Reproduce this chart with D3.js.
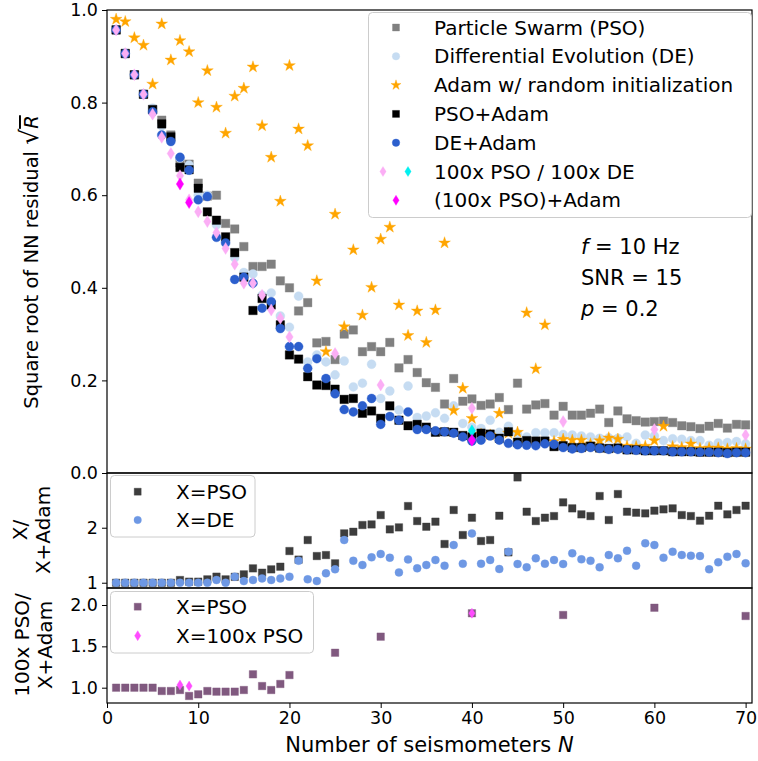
<!DOCTYPE html>
<html><head><meta charset="utf-8">
<script src="https://cdn.jsdelivr.net/npm/d3@7"></script>
<style>body{margin:0;background:#fff}text{font-family:"DejaVu Sans",sans-serif;fill:#000}</style>
</head><body><svg id="c" width="758" height="761"></svg>
<script>
const N = d3.range(1, 71);
const psoVals = [0.957,0.906,0.86,0.818,0.785,0.762,0.73,0.67,0.667,0.626,0.598,0.60,0.539,0.527,0.489,0.446,0.446,0.451,0.415,0.40,0.35,0.368,0.281,0.284,0.245,0.30,0.309,0.262,0.273,0.262,0.282,0.227,0.245,0.217,0.195,0.185,0.149,0.204,0.155,0.16,0.146,0.149,0.163,0.137,0.194,0.138,0.147,0.15,0.125,0.144,0.125,0.125,0.129,0.138,0.109,0.134,0.117,0.113,0.11,0.111,0.112,0.109,0.102,0.1,0.096,0.101,0.107,0.097,0.105,0.104];
const deVals = [0.957,0.906,0.86,0.818,0.788,0.75,0.72,0.68,0.665,0.60,0.60,0.536,0.50,0.465,0.433,0.43,0.384,0.389,0.339,0.315,0.382,0.24,0.255,0.24,0.212,0.242,0.186,0.194,0.235,0.161,0.177,0.136,0.188,0.12,0.123,0.13,0.118,0.145,0.107,0.099,0.096,0.114,0.088,0.101,0.085,0.078,0.087,0.087,0.087,0.083,0.082,0.08,0.078,0.075,0.076,0.075,0.078,0.064,0.082,0.08,0.07,0.074,0.073,0.07,0.07,0.06,0.065,0.066,0.068,0.063];
const adamVals = [0.98,0.975,0.94,0.924,0.84,0.97,0.892,0.934,0.91,0.80,0.869,0.79,0.734,0.814,0.831,0.877,0.75,0.682,0.587,0.88,0.743,0.707,0.415,0.262,0.559,0.316,0.482,0.341,0.401,0.505,0.531,0.363,0.297,0.35,0.282,0.352,0.497,0.135,0.183,0.118,0.084,0.082,0.129,0.086,0.088,0.346,0.225,0.32,0.068,0.073,0.071,0.071,0.063,0.07,0.076,0.073,0.058,0.057,0.058,0.07,0.101,0.057,0.055,0.063,0.053,0.054,0.054,0.052,0.053,0.052];
const psoAdamVals = [0.957,0.906,0.86,0.818,0.785,0.754,0.726,0.66,0.655,0.615,0.564,0.546,0.51,0.476,0.423,0.351,0.377,0.363,0.32,0.255,0.246,0.208,0.19,0.189,0.181,0.159,0.161,0.129,0.134,0.118,0.145,0.114,0.102,0.105,0.099,0.088,0.089,0.088,0.081,0.078,0.086,0.084,0.075,0.089,0.0665,0.07,0.069,0.069,0.057,0.059,0.055,0.055,0.058,0.054,0.053,0.054,0.05,0.05,0.048,0.048,0.048,0.046,0.046,0.046,0.045,0.045,0.045,0.044,0.045,0.045];
const deAdamVals = [0.957,0.906,0.86,0.818,0.78,0.73,0.716,0.682,0.654,0.59,0.597,0.509,0.497,0.418,0.423,0.41,0.356,0.37,0.312,0.273,0.273,0.226,0.247,0.204,0.171,0.137,0.132,0.145,0.161,0.105,0.122,0.114,0.132,0.094,0.094,0.091,0.089,0.086,0.078,0.069,0.071,0.08,0.071,0.064,0.061,0.06,0.059,0.063,0.062,0.055,0.052,0.053,0.055,0.053,0.051,0.051,0.05,0.049,0.048,0.048,0.048,0.046,0.046,0.046,0.045,0.045,0.044,0.042,0.044,0.044];
const pso100N = [1,2,3,4,5,6,7,8,9,10,11,12,13,14,15,16,17,18,19,20,25,30,40,50,60,70];
const pso100Vals = [0.957,0.906,0.86,0.818,0.775,0.725,0.69,0.642,0.59,0.564,0.543,0.519,0.485,0.451,0.41,0.41,0.384,0.352,0.334,0.294,0.258,0.19,0.14,0.111,0.094,0.082];
const de100N = [40];
const de100Vals = [0.091];
const pso100AdamN = [8,9,40];
const pso100AdamVals = [0.624,0.584,0.071];
const ratioPSO = [1,1,1,1,1,1,1,1.049,1.019,1.019,1.061,1.11,1.061,1.107,1.152,1.261,1.182,1.243,1.291,1.576,1.42,1.776,1.485,1.503,1.352,1.897,1.927,2.049,2.06,2.23,1.97,2.006,2.394,2.121,2.018,2.11,1.704,2.322,1.867,2.182,1.758,1.776,2.218,1.552,2.915,2.291,2.121,2.182,2.212,2.461,2.352,2.243,2.212,2.576,2.14,2.612,2.291,2.273,2.261,2.31,2.334,2.352,2.23,2.212,2.128,2.218,2.40,2.243,2.322,2.40];
const ratioDE = [1,1,1,1,1,1,1,1,1,1,1,1.049,1,1.11,1.03,1.049,1.079,1.049,1.079,1.11,1.40,1.061,1.03,1.17,1.243,1.776,1.40,1.322,1.461,1.522,1.455,1.188,1.424,1.261,1.322,1.413,1.309,1.685,1.346,1.897,1.346,1.413,1.249,1.564,1.34,1.28,1.443,1.346,1.413,1.34,1.534,1.425,1.40,1.28,1.503,1.443,1.582,1.309,1.716,1.685,1.455,1.564,1.503,1.491,1.485,1.243,1.37,1.473,1.522,1.352];
const ratio100N = pso100N;
const ratio100Vals = [1,1,1,1,1,0.96,0.96,0.972,0.90,0.92,0.96,0.952,0.952,0.952,0.972,1.162,1.02,0.972,1.045,1.153,1.423,1.617,1.90,1.879,1.967,1.867];
const ratio100AdamN = [8,9,40];
const ratio100AdamVals = [1.033,1.02,1.90];
const xTicks = [0,10,20,30,40,50,60,70];
const mainTicks = [0,0.2,0.4,0.6,0.8,1.0];
const midTicks = [1,2];
const botTicks = [1.0,1.5,2.0];

const svg = d3.select("#c");
const L=107, R=752;
const x = d3.scaleLinear().domain([0,70.7]).range([L,R]);
const yMain = d3.scaleLinear().domain([0,1]).range([473,10]);
const yMid = d3.scaleLinear().domain([0.904,2.995]).range([588,473]);
const yBot = d3.scaleLinear().domain([0.815,2.2056]).range([703,588]);

const sq = s => {const h=s/2;return `M${-h},${-h}h${s}v${s}h${-s}Z`;};
const circ = d => {const r=d/2;return `M${r},0A${r},${r} 0 1,1 ${-r},0A${r},${r} 0 1,1 ${r},0Z`;};
const star = Rr => {const p=[];for(let i=0;i<10;i++){const r=i%2?Rr*0.382:Rr;const a=-Math.PI/2+i*Math.PI/5;p.push([(r*Math.cos(a)).toFixed(2),(r*Math.sin(a)).toFixed(2)]);}return "M"+p.join("L")+"Z";};
const diam = h => {const w=h*0.62;return `M0,${-h/2}L${w/2},0L0,${h/2}L${-w/2},0Z`;};

const defs = svg.append("defs");
function clip(id,y0,y1){defs.append("clipPath").attr("id",id).append("rect").attr("x",L).attr("y",y0).attr("width",R-L).attr("height",y1-y0);}
clip("cm",10,473);clip("cd",473,588);clip("cb",588,703);

function scatter(g, xs, ys, ys2, path, fill, op){
  g.append("g").selectAll("path").data(xs.map((v,i)=>[v,ys[i]])).join("path")
   .attr("d",path).attr("transform",d=>`translate(${x(d[0])},${ys2(d[1])})`)
   .attr("fill",fill).attr("stroke",fill).attr("stroke-opacity",op===undefined?0.35:op).attr("stroke-width",1);
}

const gm = svg.append("g").attr("clip-path","url(#cm)");
scatter(gm,N,psoVals,yMain,sq(8.5),"#808080");
scatter(gm,N,deVals,yMain,circ(9),"#c6dcf2");
scatter(gm,N,adamVals,yMain,star(6.2),"#ffa500");
scatter(gm,N,psoAdamVals,yMain,sq(8.5),"#000000");
scatter(gm,N,deAdamVals,yMain,circ(9),"#2c5fcd");
scatter(gm,pso100N,pso100Vals,yMain,diam(12),"#fbaef5");
scatter(gm,de100N,de100Vals,yMain,diam(12),"#00f0f0");
scatter(gm,pso100AdamN,pso100AdamVals,yMain,diam(12),"#ff00ff");

const gd = svg.append("g").attr("clip-path","url(#cd)");
scatter(gd,N,ratioPSO,yMid,sq(7.5),"#3d3d3d");
scatter(gd,N,ratioDE,yMid,circ(8),"#6e98e4");

const gb = svg.append("g").attr("clip-path","url(#cb)");
scatter(gb,ratio100N,ratio100Vals,yBot,sq(7.5),"#80597f");
scatter(gb,ratio100AdamN,ratio100AdamVals,yBot,diam(10),"#ff4cff");

[[10,473],[473,588],[588,703]].forEach(([a,b])=>{
  svg.append("rect").attr("x",L).attr("y",a).attr("width",R-L).attr("height",b-a).attr("fill","none").attr("stroke","#000").attr("stroke-width",1.2);
});

function yax(sc, ticks, fmt){
  const g = svg.append("g").attr("transform",`translate(${L},0)`)
   .call(d3.axisLeft(sc).tickValues(ticks).tickFormat(fmt).tickSize(5).tickPadding(4));
  g.select(".domain").remove();
  g.selectAll("line").attr("stroke","#000").attr("stroke-width",1);
  g.selectAll("text").style("font-size","17.5px").style("font-family","DejaVu Sans").attr("fill","#000");
}
yax(yMain, mainTicks, d3.format(".1f"));
yax(yMid, midTicks, d3.format("d"));
yax(yBot, botTicks, d3.format(".1f"));
const gx = svg.append("g").attr("transform","translate(0,703)")
  .call(d3.axisBottom(x).tickValues(xTicks).tickFormat(d3.format("d")).tickSize(5).tickPadding(4));
gx.select(".domain").remove();
gx.selectAll("line").attr("stroke","#000");
gx.selectAll("text").style("font-size","17.5px").style("font-family","DejaVu Sans").attr("fill","#000");

const xl = svg.append("text").attr("x",(L+R)/2).attr("y",752).attr("text-anchor","middle").style("font-size","21px");
xl.append("tspan").text("Number of seismometers ");
xl.append("tspan").text("N").style("font-style","italic");

const yl = svg.append("text").attr("transform","translate(38,262) rotate(-90)").attr("text-anchor","middle").style("font-size","19.5px");
yl.append("tspan").text("Square root of NN residual ");
yl.append("tspan").text("√").style("font-size","25px");
yl.append("tspan").text("R").style("font-style","italic").style("text-decoration","overline");

function twoLine(cx, cy, l1, l2){
  const t = svg.append("text").attr("transform",`translate(${cx},${cy}) rotate(-90)`).attr("text-anchor","middle").style("font-size","20px");
  t.append("tspan").attr("x",0).attr("y",0).text(l1);
  t.append("tspan").attr("x",0).attr("y",23).text(l2);
}
twoLine(27,530,"X/","X+Adam");
twoLine(29,645,"100x PSO/","X+Adam");

const ann = [["f"," = 10 Hz",254],["","SNR = 15",285],["p"," = 0.2",316]];
ann.forEach(([it,rest,yy])=>{
  const t = svg.append("text").attr("x",581).attr("y",yy).style("font-size","21px");
  if(it) t.append("tspan").text(it).style("font-style","italic");
  t.append("tspan").text(rest);
});

function legendBox(x0,y0,w,h){
  svg.append("rect").attr("x",x0).attr("y",y0).attr("width",w).attr("height",h).attr("rx",4)
   .attr("fill","#fff").attr("fill-opacity",0.8).attr("stroke","#cccccc").attr("stroke-width",1);
}
function lmark(px,py,path,fill){
  svg.append("path").attr("d",path).attr("transform",`translate(${px},${py})`).attr("fill",fill).attr("stroke",fill).attr("stroke-opacity",0.35);
}
function ltext(px,py,str,size){
  svg.append("text").attr("x",px).attr("y",py).attr("dy","0.35em").style("font-size",size).text(str);
}
legendBox(368.5,12.5,383,205);
const mainLeg = [
  ["Particle Swarm (PSO)", [[396,sq(7),"#808080"]]],
  ["Differential Evolution (DE)", [[396,circ(7.5),"#c6dcf2"]]],
  ["Adam w/ random initialization", [[396,star(5.3),"#ffa500"]]],
  ["PSO+Adam", [[396,sq(7),"#000000"]]],
  ["DE+Adam", [[396,circ(7.5),"#2c5fcd"]]],
  ["100x PSO / 100x DE", [[383,diam(10),"#fbaef5"],[408,diam(10),"#00f0f0"]]],
  ["(100x PSO)+Adam", [[396,diam(10),"#ff00ff"]]]
];
mainLeg.forEach(([lab,ms],i)=>{
  const yy = 27.5 + i*28.8;
  ms.forEach(([px,p,c])=>lmark(px,yy,p,c));
  ltext(434,yy,lab,"20px");
});
legendBox(110.5,475.5,144.5,61.5);
lmark(137.7,491.7,sq(7),"#3d3d3d"); ltext(176,491.7,"X=PSO","20px");
lmark(137.7,520,circ(7.5),"#6e98e4"); ltext(176,520,"X=DE","20px");
legendBox(110.5,591.5,203,61.5);
lmark(137.7,606.7,sq(7),"#80597f"); ltext(176,606.7,"X=PSO","20px");
lmark(137.7,635.7,diam(10),"#ff4cff"); ltext(176,635.7,"X=100x PSO","20px");
</script></body></html>
